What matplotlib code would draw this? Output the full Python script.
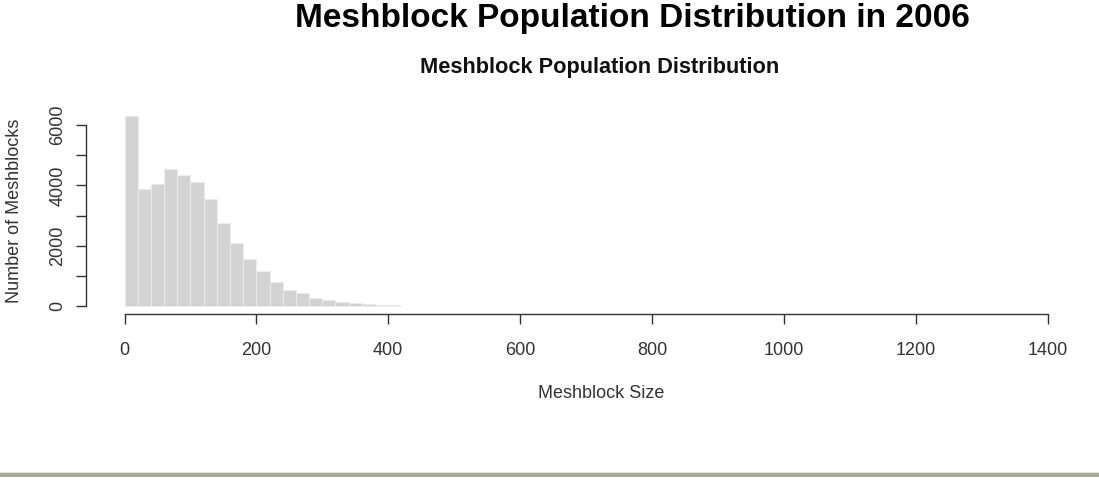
import matplotlib
matplotlib.use("Agg")
import matplotlib.pyplot as plt
from matplotlib.patches import Rectangle
import numpy as np

plt.rcParams['font.family'] = ['Liberation Sans', 'DejaVu Sans']

# Data: histogram of meshblock sizes, bins of width 20
bin_width = 20
bin_starts = list(range(0, 420, 20))
counts = [6300, 3868, 4034, 4531, 4342, 4120, 3537, 2761, 2078, 1548,
          1165, 795, 525, 415, 276, 188, 122, 85, 55, 32, 22]
x_ticks = [0, 200, 400, 600, 800, 1000, 1200, 1400]
y_ticks = [0, 1000, 2000, 3000, 4000, 5000, 6000]
y_ticklabels = ['0', '', '2000', '', '4000', '', '6000']

W, H = 1099, 480
fig = plt.figure(figsize=(W / 100, H / 100), dpi=100)

# pixel geometry of plot region
px_x0, px_x1400 = 124.5, 1047.5
ppu_x = (px_x1400 - px_x0) / 1400.0
px_y0, px_y6000 = 306.0, 125.0
ppu_y = (px_y0 - px_y6000) / 6000.0

ax_left_px, ax_right_px = 86.0, 1086.0
ax_bottom_px, ax_top_px = 314.0, 108.0
xmin = (ax_left_px - px_x0) / ppu_x
xmax = (ax_right_px - px_x0) / ppu_x
ymin = -(ax_bottom_px - px_y0) / ppu_y
ymax = (px_y0 - ax_top_px) / ppu_y

ax = fig.add_axes([ax_left_px / W, (H - ax_bottom_px) / H,
                   (ax_right_px - ax_left_px) / W, (ax_bottom_px - ax_top_px) / H])
ax.bar(bin_starts, counts, width=bin_width, align='edge',
       color='#d3d3d3', edgecolor='#ececec', linewidth=0.6)
ax.set_xlim(xmin, xmax)
ax.set_ylim(ymin, ymax)

for s in ['top', 'right']:
    ax.spines[s].set_visible(False)
ax.spines['left'].set_bounds(0, 6000)
ax.spines['bottom'].set_bounds(0, 1400)
for s in ['left', 'bottom']:
    ax.spines[s].set_color('#333333')
    ax.spines[s].set_linewidth(1.0)

ax.set_xticks(x_ticks)
ax.set_xticklabels([str(v) for v in x_ticks])
ax.set_yticks(y_ticks)
ax.set_yticklabels(y_ticklabels, rotation=90, va='center')
ax.tick_params(axis='x', length=7.5, width=1.0, color='#333333', pad=13,
               labelsize=13, labelcolor='#333333')
ax.tick_params(axis='y', length=7.2, width=1.0, color='#333333', pad=7,
               labelsize=13, labelcolor='#333333')

fig.text(15 / W, 1 - 211 / H, 'Number of Meshblocks', rotation=90,
         ha='center', va='center', fontsize=13, color='#333333')
fig.text(601 / W, 1 - 393 / H, 'Meshblock Size', ha='center', va='center',
         fontsize=13, color='#333333')
fig.text(600 / W, 1 - 67 / H, 'Meshblock Population Distribution',
         ha='center', va='center', fontsize=15.7, fontweight='bold', color='#111111')
fig.text(632 / W, 1 - 18.5 / H, 'Meshblock Population Distribution in 2006',
         ha='center', va='center', fontsize=24, fontweight='bold', color='#000000')

# bottom rule
fig.add_artist(Rectangle((0, 1 - 473 / H), 1, 1.2 / H, transform=fig.transFigure,
                         facecolor='#e4e4da', edgecolor='none'))
fig.add_artist(Rectangle((0, 1 - 476.5 / H), 1, 3.5 / H, transform=fig.transFigure,
                         facecolor='#a9aa9a', edgecolor='none'))

fig.savefig('out.png', dpi=100)
